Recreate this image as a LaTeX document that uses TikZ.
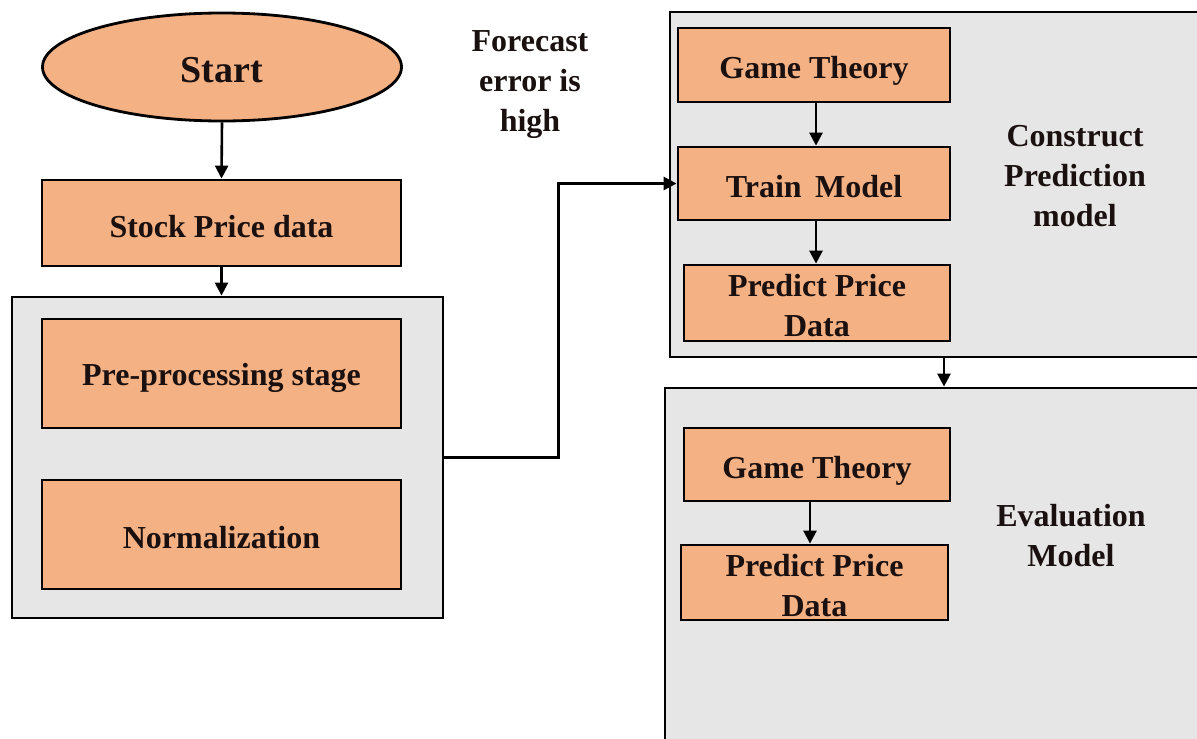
\documentclass[tikz,border=0pt]{standalone}
\usepackage{fontspec}
\setmainfont{Liberation Serif}
\usetikzlibrary{arrows.meta,shapes.geometric}
\definecolor{boxorange}{HTML}{F4B183}
\definecolor{panelgray}{HTML}{E7E6E6}
\definecolor{txt}{HTML}{1A1010}
\newcommand{\lowr}[2]{\raisebox{-#1}[\height][\depth]{#2}}
\newcommand{\twol}[3]{\raisebox{-#1}[0pt][0pt]{\begin{tabular}{@{}c@{}}#2\\#3\end{tabular}}}
\tikzset{
  orangebox/.style={draw=black, line width=2.8pt, fill=boxorange, inner sep=0pt,
    align=center, text=txt, font=\bfseries\fontsize{32}{40}\selectfont},
  panel/.style={draw=black, line width=2.8pt, fill=panelgray, inner sep=0pt},
  label/.style={align=center, text=txt, font=\bfseries\fontsize{32}{40}\selectfont},
  arr/.style={draw=black, line width=2.6pt, -{Triangle[width=13pt,length=13pt]}}
}
\begin{document}
\begin{tikzpicture}[x=1pt,y=-1pt]
\useasboundingbox (0,0) rectangle (1197,739);
\clip (0,0) rectangle (1197,739);
\fill[white] (0,0) rectangle (1197,739);

% left column
\node[orangebox, ellipse, minimum width=359pt, minimum height=108pt,
  font=\bfseries\fontsize{38}{44}\selectfont] (start) at (222,67) {\lowr{3pt}{Start}};
\node[orangebox, minimum width=359pt, minimum height=86pt] (stock) at (221.5,223) {\lowr{4pt}{Stock Price data}};
\node[panel, minimum width=431pt, minimum height=321pt] (pre) at (227.5,457.5) {};
\node[orangebox, minimum width=359pt, minimum height=109pt] (prep) at (221.5,373.5) {\lowr{4pt}{Pre-processing stage}};
\node[orangebox, minimum width=359pt, minimum height=109pt] (norm) at (221.5,534.5) {\lowr{3pt}{Normalization}};

% forecast label
\node[label] (fc) at (530,85) {Forecast\\error is\\high};

% top-right panel
\node[panel, minimum width=540pt, minimum height=345pt] (cons) at (940,184.5) {};
\node[orangebox, minimum width=272pt, minimum height=74pt] (gt1) at (814,65) {\lowr{6pt}{Game Theory}};
\node[orangebox, minimum width=272pt, minimum height=73pt] (train) at (814,183.5) {\lowr{3pt}{Train\, Model}};
\node[orangebox, minimum width=266pt, minimum height=76pt] (pp1) at (817,303) {\twol{12pt}{Predict Price}{Data}};
\node[label] (consl) at (1075,176) {Construct\\Prediction\\model};

% bottom-right panel
\node[panel, minimum width=545pt, minimum height=380pt] (eval) at (937.5,578) {};
\node[orangebox, minimum width=266pt, minimum height=73pt] (gt2) at (817,464.5) {\lowr{6pt}{Game Theory}};
\node[orangebox, minimum width=267pt, minimum height=75pt] (pp2) at (814.5,582.5) {\twol{12pt}{Predict Price}{Data}};
\node[label] (evall) at (1071,536) {Evaluation\\Model};

% connectors
\draw[arr] (start.south) -- (stock.north);
\draw[arr] (stock.south) -- (stock.south |- pre.north);
\draw[arr] (pre.east) -- ++(114,0) |- (train.west);
\draw[arr] (gt1.south -| 816,0) -- (train.north -| 816,0);
\draw[arr] (train.south -| 816,0) -- (pp1.north -| 816,0);
\coordinate (ax) at (944,0);
\draw[arr] (cons.south -| ax) -- (eval.north -| ax);
\coordinate (bx) at (810,0);
\draw[arr] (gt2.south -| bx) -- (pp2.north -| bx);
\end{tikzpicture}
\end{document}
